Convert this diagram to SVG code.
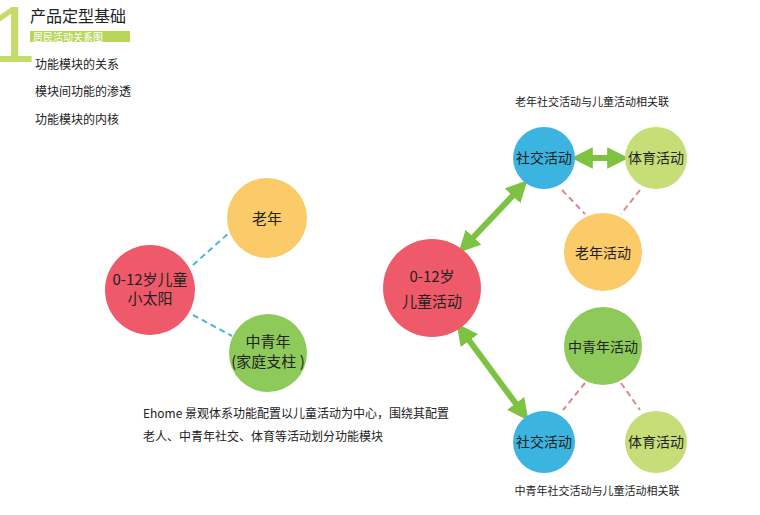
<svg xmlns="http://www.w3.org/2000/svg" width="760" height="515" viewBox="0 0 760 515">
<style>
text{font-family:"Noto Sans CJK SC","Liberation Sans",sans-serif;fill:#222}
.t{font-size:15px;text-anchor:middle}
.s{font-size:12px}
.bd{stroke:#4BB6D8;stroke-width:2;stroke-dasharray:6 4;fill:none}
.rd{stroke:#D98A8A;stroke-width:2;stroke-dasharray:6 4;fill:none}
.ar{stroke:#7DC242;stroke-width:6;fill:none}
</style>
<defs>
<marker id="ah" viewBox="0 0 10 10" refX="5" refY="5" markerWidth="3.6" markerHeight="3.6" orient="auto-start-reverse"><path d="M0,0L10,5L0,10z" fill="#7DC242"/></marker>
</defs>
<rect width="760" height="515" fill="#fff"/>
<g id="header">
<text x="-9" y="62" style="font-family:'Liberation Sans',sans-serif;font-size:80px;fill:#C5DC6A">1</text>
<text x="30" y="22" style="font-size:16px">产品定型基础</text>
<rect x="30" y="31" width="100" height="11" fill="#B9D65A"/>
<text x="33" y="40.5" style="font-size:10px;fill:#fff">居民活动关系图</text>
<text x="35" y="69" class="s">功能模块的关系</text>
<text x="35" y="96" class="s">模块间功能的渗透</text>
<text x="35" y="124" class="s">功能模块的内核</text>
</g>
<g id="connectors">
<line class="bd" x1="193" y1="265" x2="230" y2="232"/>
<line class="bd" x1="193" y1="315" x2="232" y2="336"/>
<line class="rd" x1="562" y1="190" x2="585" y2="214"/>
<line class="rd" x1="640" y1="190" x2="621" y2="214"/>
<line class="rd" x1="585" y1="383" x2="563" y2="410"/>
<line class="rd" x1="621" y1="383" x2="640" y2="410"/>
<line class="ar" x1="582" y1="158" x2="618" y2="158" marker-start="url(#ah)" marker-end="url(#ah)"/>
<line class="ar" x1="520" y1="188" x2="466" y2="245" marker-start="url(#ah)" marker-end="url(#ah)"/>
<line class="ar" x1="463" y1="332" x2="522" y2="412" marker-start="url(#ah)" marker-end="url(#ah)"/>
</g>
<g id="n-child"><circle cx="150" cy="290" r="45" fill="#EE5A6A"/><text x="150" y="285" class="t">0-12岁儿童</text><text x="150" y="304" class="t">小太阳</text></g>
<g id="n-old"><circle cx="267" cy="218" r="40" fill="#FBCB6A"/><text x="267" y="224" class="t">老年</text></g>
<g id="n-mid"><circle cx="268" cy="353" r="39" fill="#8DCA5A"/><text x="268" y="347" class="t">中青年</text><text x="268" y="367" class="t">(家庭支柱 )</text></g>
<g id="n-child2"><circle cx="432" cy="288" r="49" fill="#EE5A6A"/><text x="432" y="282" class="t">0-12岁</text><text x="432" y="307" class="t">儿童活动</text></g>
<g id="n-social1"><circle cx="544" cy="158" r="31" fill="#3BB5E0"/><text x="544" y="163" class="t" style="font-size:14px">社交活动</text></g>
<g id="n-sport1"><circle cx="656" cy="158" r="31" fill="#C7DE78"/><text x="656" y="163" class="t" style="font-size:14px">体育活动</text></g>
<g id="n-oldact"><circle cx="603" cy="252" r="39" fill="#FBCB6A"/><text x="603" y="258" class="t" style="font-size:14px">老年活动</text></g>
<g id="n-midact"><circle cx="603" cy="346" r="39" fill="#8DCA5A"/><text x="603" y="352" class="t" style="font-size:14px">中青年活动</text></g>
<g id="n-social2"><circle cx="544" cy="442" r="31" fill="#3BB5E0"/><text x="544" y="447" class="t" style="font-size:14px">社交活动</text></g>
<g id="n-sport2"><circle cx="656" cy="442" r="31" fill="#C7DE78"/><text x="656" y="447" class="t" style="font-size:14px">体育活动</text></g>
<g id="captions">
<text x="592" y="106" class="s" style="text-anchor:middle;font-size:11px">老年社交活动与儿童活动相关联</text>
<text x="597" y="495" class="s" style="text-anchor:middle;font-size:11px">中青年社交活动与儿童活动相关联</text>
<text x="143" y="418" class="s">Ehome 景观体系功能配置以儿童活动为中心，围绕其配置</text>
<text x="143" y="441" class="s">老人、中青年社交、体育等活动划分功能模块</text>
</g>
</svg>
